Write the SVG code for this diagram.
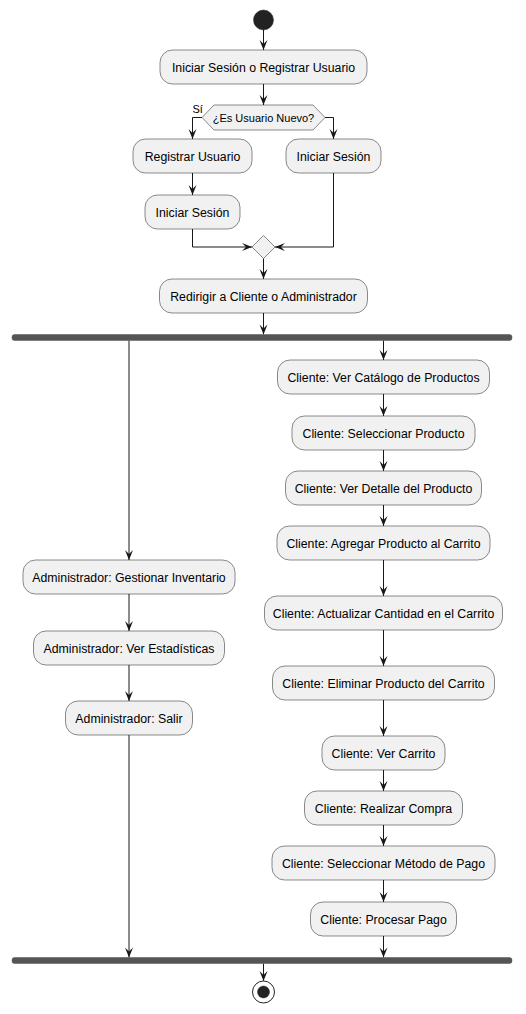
<svg xmlns="http://www.w3.org/2000/svg" width="526" height="1014" viewBox="0 0 526 1014">
<style>
.box{fill:#F1F1F1;stroke:#181818;stroke-width:0.5}
.t{font-family:"Liberation Sans",Arial,sans-serif;font-size:12.3px;fill:#000;text-anchor:middle}
.ts{font-family:"Liberation Sans",Arial,sans-serif;font-size:11px;fill:#000}
.ln{fill:none;stroke:#181818;stroke-width:1}
.bar{fill:#555555;stroke:#555555;stroke-width:0.5}
</style>
<defs>
<marker id="ah" markerUnits="userSpaceOnUse" markerWidth="12" markerHeight="10" refX="10" refY="4" orient="auto" overflow="visible">
<path d="M0,0 L10,4 L0,8 L4,4 Z" fill="#181818"/>
</marker>
</defs>
<g id="connectors">
<path class="ln" marker-end="url(#ah)" d="M263.5,30 V50"/>
<path class="ln" marker-end="url(#ah)" d="M263.5,84 V105"/>
<path class="ln" marker-end="url(#ah)" d="M202,117.5 H192.5 V139"/>
<path class="ln" marker-end="url(#ah)" d="M325,117.5 H333.5 V139"/>
<path class="ln" marker-end="url(#ah)" d="M192.5,173 V195"/>
<path class="ln" marker-end="url(#ah)" d="M192.5,229 V247 H252"/>
<path class="ln" marker-end="url(#ah)" d="M333.5,173 V247 H275"/>
<path class="ln" marker-end="url(#ah)" d="M263.5,258.5 V279"/>
<path class="ln" marker-end="url(#ah)" d="M263.5,313 V334.5"/>
<path class="ln" marker-end="url(#ah)" d="M129,340.5 V560"/>
<path class="ln" marker-end="url(#ah)" d="M129,594 V631"/>
<path class="ln" marker-end="url(#ah)" d="M129,665 V701"/>
<path class="ln" marker-end="url(#ah)" d="M129,735 V957.5"/>
<path class="ln" marker-end="url(#ah)" d="M383.5,340.5 V360"/>
<path class="ln" marker-end="url(#ah)" d="M383.5,394 V416"/>
<path class="ln" marker-end="url(#ah)" d="M383.5,450 V471"/>
<path class="ln" marker-end="url(#ah)" d="M383.5,505 V526"/>
<path class="ln" marker-end="url(#ah)" d="M383.5,560 V596"/>
<path class="ln" marker-end="url(#ah)" d="M383.5,630 V666"/>
<path class="ln" marker-end="url(#ah)" d="M383.5,700 V736"/>
<path class="ln" marker-end="url(#ah)" d="M383.5,770 V791"/>
<path class="ln" marker-end="url(#ah)" d="M383.5,825 V846"/>
<path class="ln" marker-end="url(#ah)" d="M383.5,880 V902"/>
<path class="ln" marker-end="url(#ah)" d="M383.5,936 V957.5"/>
<path class="ln" marker-end="url(#ah)" d="M263.5,963.5 V981"/>
</g>
<g id="start"><circle cx="263.5" cy="20" r="10" fill="#222222" stroke="#222222" stroke-width="0.5"/></g>
<g id="n1"><rect class="box" x="160" y="50" width="207" height="34" rx="12.5"/><text class="t" x="263.5" y="71.5">Iniciar Sesión o Registrar Usuario</text></g>
<g id="decision"><polygon class="box" points="202,117.5 214,105 313,105 325,117.5 313,130 214,130"/><text class="ts" x="263.5" y="121.5" text-anchor="middle">¿Es Usuario Nuevo?</text><text class="ts" x="192.5" y="113">Sí</text></g>
<g id="n2"><rect class="box" x="133" y="139" width="119" height="34" rx="12.5"/><text class="t" x="192.5" y="160.5">Registrar Usuario</text></g>
<g id="n3"><rect class="box" x="286" y="139" width="95" height="34" rx="12.5"/><text class="t" x="333.5" y="160.5">Iniciar Sesión</text></g>
<g id="n4"><rect class="box" x="145" y="195" width="95" height="34" rx="12.5"/><text class="t" x="192.5" y="216.5">Iniciar Sesión</text></g>
<g id="merge"><polygon class="box" points="252,247 263.5,235.5 275,247 263.5,258.5"/></g>
<g id="n5"><rect class="box" x="159.5" y="279" width="208" height="34" rx="12.5"/><text class="t" x="263.5" y="300.5">Redirigir a Cliente o Administrador</text></g>
<g id="fork"><rect class="bar" x="12" y="334.5" width="500" height="6" rx="2.5"/></g>
<g id="a1"><rect class="box" x="23" y="560" width="212" height="34" rx="12.5"/><text class="t" x="129" y="581.5">Administrador: Gestionar Inventario</text></g>
<g id="a2"><rect class="box" x="33.5" y="631" width="191" height="34" rx="12.5"/><text class="t" x="129" y="652.5">Administrador: Ver Estadísticas</text></g>
<g id="a3"><rect class="box" x="65.5" y="701" width="127" height="34" rx="12.5"/><text class="t" x="129" y="722.5">Administrador: Salir</text></g>
<g id="c1"><rect class="box" x="277.5" y="360" width="212" height="34" rx="12.5"/><text class="t" x="383.5" y="381.5">Cliente: Ver Catálogo de Productos</text></g>
<g id="c2"><rect class="box" x="292" y="416" width="183" height="34" rx="12.5"/><text class="t" x="383.5" y="437.5">Cliente: Seleccionar Producto</text></g>
<g id="c3"><rect class="box" x="285.5" y="471" width="196" height="34" rx="12.5"/><text class="t" x="383.5" y="492.5">Cliente: Ver Detalle del Producto</text></g>
<g id="c4"><rect class="box" x="277" y="526" width="213" height="34" rx="12.5"/><text class="t" x="383.5" y="547.5">Cliente: Agregar Producto al Carrito</text></g>
<g id="c5"><rect class="box" x="264.5" y="596" width="238" height="34" rx="12.5"/><text class="t" x="383.5" y="617.5">Cliente: Actualizar Cantidad en el Carrito</text></g>
<g id="c6"><rect class="box" x="272.5" y="666" width="222" height="34" rx="12.5"/><text class="t" x="383.5" y="687.5">Cliente: Eliminar Producto del Carrito</text></g>
<g id="c7"><rect class="box" x="322" y="736" width="123" height="34" rx="12.5"/><text class="t" x="383.5" y="757.5">Cliente: Ver Carrito</text></g>
<g id="c8"><rect class="box" x="304.5" y="791" width="158" height="34" rx="12.5"/><text class="t" x="383.5" y="812.5">Cliente: Realizar Compra</text></g>
<g id="c9"><rect class="box" x="272" y="846" width="223" height="34" rx="12.5"/><text class="t" x="383.5" y="867.5">Cliente: Seleccionar Método de Pago</text></g>
<g id="c10"><rect class="box" x="310.5" y="902" width="146" height="34" rx="12.5"/><text class="t" x="383.5" y="923.5">Cliente: Procesar Pago</text></g>
<g id="join"><rect class="bar" x="12" y="957.5" width="500" height="6" rx="2.5"/></g>
<g id="end"><circle cx="263.5" cy="992" r="11" fill="none" stroke="#222222" stroke-width="1"/><circle cx="263.5" cy="992" r="6" fill="#222222" stroke="#222222" stroke-width="0.5"/></g>
</svg>
